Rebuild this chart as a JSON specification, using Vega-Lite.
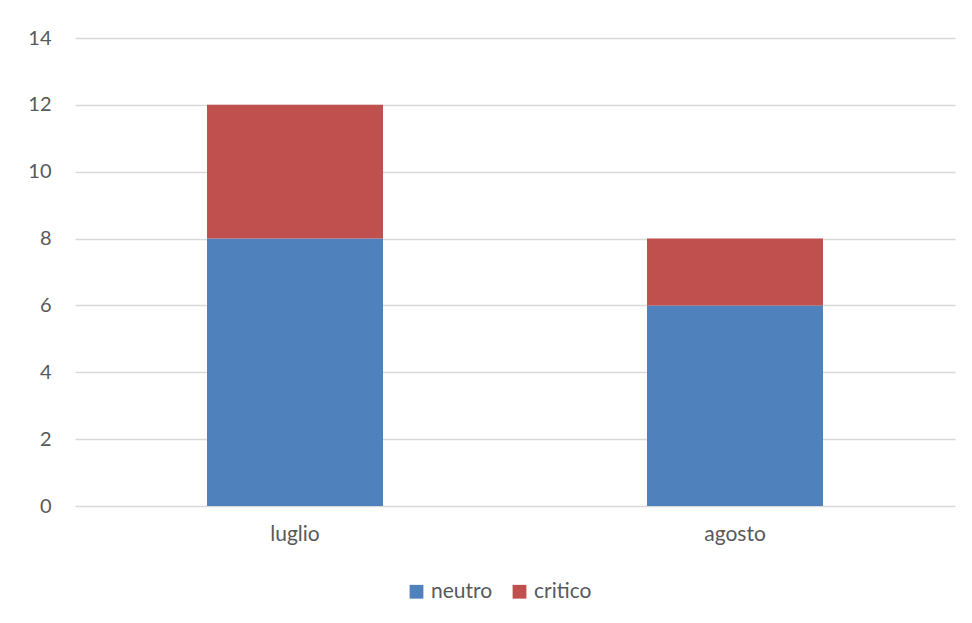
{
  "$schema": "https://vega.github.io/schema/vega-lite/v6.json",
  "width": 880,
  "height": 468,
  "autosize": "none",
  "padding": {"left": 75, "top": 38, "right": 17, "bottom": 117},
  "background": "white",
  "data": {
    "values": [
      {"mese": "luglio", "serie": "neutro", "valore": 8},
      {"mese": "luglio", "serie": "critico", "valore": 4},
      {"mese": "agosto", "serie": "neutro", "valore": 6},
      {"mese": "agosto", "serie": "critico", "valore": 2}
    ]
  },
  "mark": {"type": "bar"},
  "encoding": {
    "x": {
      "field": "mese",
      "type": "nominal",
      "sort": ["luglio", "agosto"],
      "scale": {"paddingInner": 0.6, "paddingOuter": 0.3},
      "axis": {
        "title": null,
        "labelAngle": 0,
        "domain": false,
        "ticks": false,
        "labelPadding": 17,
        "labelBaseline": "top",
        "labelFont": "Lato",
        "labelFontSize": 21,
        "labelColor": "#595959"
      }
    },
    "y": {
      "field": "valore",
      "type": "quantitative",
      "stack": "zero",
      "scale": {"domain": [0, 14], "nice": false},
      "axis": {
        "title": null,
        "values": [0, 2, 4, 6, 8, 10, 12, 14],
        "domain": false,
        "ticks": false,
        "labelPadding": 24,
        "gridColor": "#d9d9d9",
        "gridWidth": 1.3,
        "labelFont": "Lato",
        "labelFontSize": 20,
        "labelColor": "#595959"
      }
    },
    "color": {
      "field": "serie",
      "type": "nominal",
      "scale": {"domain": ["neutro", "critico"], "range": ["#4F81BD", "#C0504D"]},
      "legend": {
        "title": null,
        "orient": "none",
        "direction": "horizontal",
        "legendX": 331,
        "legendY": 543,
        "symbolType": "square",
        "symbolSize": 190,
        "symbolStrokeWidth": 0,
        "symbolOpacity": 1,
        "columnPadding": 16,
        "labelOffset": 4,
        "labelFont": "Lato",
        "labelFontSize": 21,
        "labelColor": "#595959"
      }
    },
    "order": {"field": "serie", "sort": "descending"}
  },
  "config": {"view": {"stroke": null}}
}
